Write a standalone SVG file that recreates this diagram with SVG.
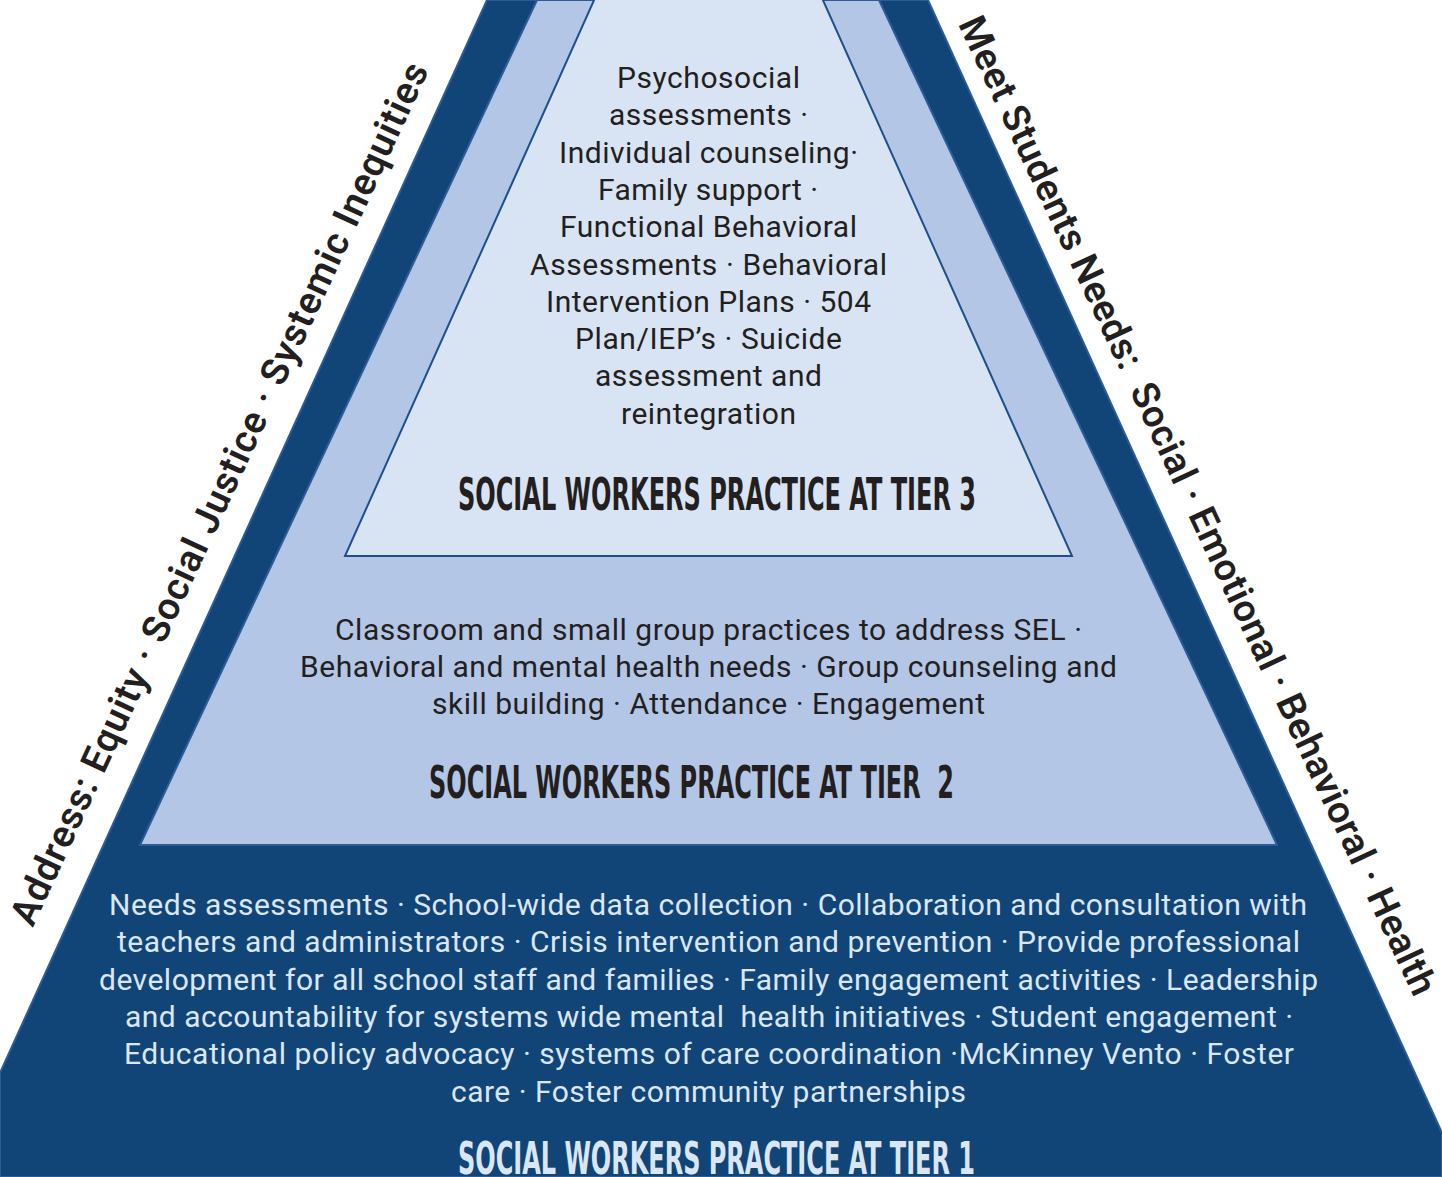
<svg xmlns="http://www.w3.org/2000/svg" width="1442" height="1177" viewBox="0 0 1442 1177">
<style>
.body{font-family:Roboto,"Liberation Sans",sans-serif;font-size:30px;}
.dark{fill:#231f20;}
.light{fill:#dbe6f4;}
.title{font-family:"DejaVu Sans Condensed","DejaVu Sans","Liberation Sans",sans-serif;font-weight:bold;font-size:45px;white-space:pre;}
.side{font-family:Roboto,"Liberation Sans",sans-serif;font-weight:600;font-size:38px;fill:#231f20;}
</style>
<rect width="1442" height="1177" fill="#ffffff"/>
<g id="tier1">
<polygon points="487,0 928,0 1442,1133 1442,1177 0,1177 0,1073" fill="#124577" stroke="#2c5c98" stroke-width="2"/>
</g>
<g id="tier2">
<polygon points="537,0 879,0 1277,845 140,845" fill="#b3c6e6" stroke="#2c5c98" stroke-width="2"/>
</g>
<g id="tier3">
<polygon points="595,-2 822,-2 1072,556 345,556" fill="#d8e4f3" stroke="#1d4f8e" stroke-width="2"/>
</g>
<g id="tier3-text" class="body dark">
<text x="617" y="88" textLength="183">Psychosocial</text>
<text x="609" y="125" textLength="199">assessments ·</text>
<text x="559" y="163" textLength="299">Individual counseling·</text>
<text x="598" y="200" textLength="220">Family support ·</text>
<text x="560" y="237" textLength="297">Functional Behavioral</text>
<text x="530" y="275" textLength="357">Assessments · Behavioral</text>
<text x="546" y="312" textLength="325">Intervention Plans · 504</text>
<text x="575" y="349" textLength="267">Plan/IEP’s · Suicide</text>
<text x="595" y="386" textLength="227">assessment and</text>
<text x="621" y="424" textLength="175">reintegration</text>
</g>
<text id="tier3-title" class="title dark" x="458" y="510" textLength="518" lengthAdjust="spacingAndGlyphs">SOCIAL WORKERS PRACTICE AT TIER 3</text>
<g id="tier2-text" class="body dark">
<text x="335" y="640" textLength="747">Classroom and small group practices to address SEL ·</text>
<text x="300" y="677" textLength="817">Behavioral and mental health needs · Group counseling and</text>
<text x="432" y="714" textLength="553">skill building · Attendance · Engagement</text>
</g>
<text id="tier2-title" class="title dark" x="429" y="798" textLength="525" lengthAdjust="spacingAndGlyphs">SOCIAL WORKERS PRACTICE AT TIER  2</text>
<g id="tier1-text" class="body light">
<text x="109" y="915" textLength="1198">Needs assessments · School-wide data collection · Collaboration and consultation with</text>
<text x="117" y="952" textLength="1183">teachers and administrators · Crisis intervention and prevention · Provide professional</text>
<text x="99" y="990" textLength="1219">development for all school staff and families · Family engagement activities · Leadership</text>
<text x="125" y="1027" textLength="1168" style="white-space:pre">and accountability for systems wide mental  health initiatives · Student engagement ·</text>
<text x="124" y="1064" textLength="1170">Educational policy advocacy · systems of care coordination ·McKinney Vento · Foster</text>
<text x="451" y="1102" textLength="515">care · Foster community partnerships</text>
</g>
<text id="tier1-title" class="title light" x="458" y="1174" textLength="517" lengthAdjust="spacingAndGlyphs">SOCIAL WORKERS PRACTICE AT TIER 1</text>
<g id="side-labels">
<text class="side" text-anchor="middle" transform="translate(231,499) rotate(-65.2)" textLength="945">Address: Equity · Social Justice · Systemic Inequities</text>
<text class="side" text-anchor="middle" transform="translate(1186,511) rotate(64.9)" textLength="1076" style="white-space:pre">Meet Students Needs:  Social · Emotional · Behavioral · Health</text>
</g>
</svg>
